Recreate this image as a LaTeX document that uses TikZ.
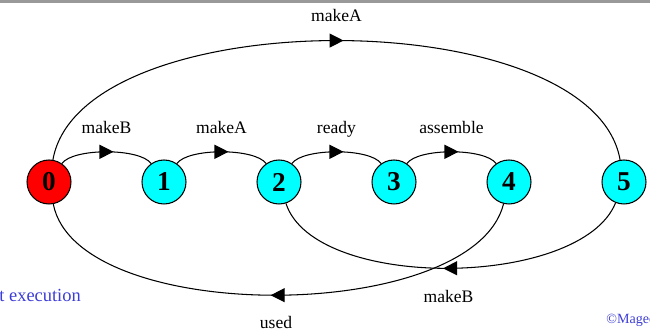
\documentclass[tikz,border=0pt]{standalone}
\usepackage{fontspec}
\setmainfont{Liberation Serif}
\usetikzlibrary{arrows.meta, decorations.markings}

\definecolor{statered}{RGB}{255,0,0}
\definecolor{statecyan}{RGB}{0,255,255}
\definecolor{noteblue}{RGB}{60,60,215}
\definecolor{bargray}{RGB}{153,153,153}

\begin{document}
\begin{tikzpicture}[x=0.02cm, y=0.02cm,
  state/.style={circle, draw, line width=0.6pt, minimum size=0.88cm, inner sep=0pt,
    fill=statecyan, font=\fontsize{15.5}{15}\selectfont\bfseries},
  trans/.style={line width=0.6pt, postaction={decorate},
    decoration={markings, mark=at position 0.5 with
      {\arrow[xshift=4pt]{Triangle[length=8pt,width=8pt]}}}},
  lbl/.style={font=\fontsize{10}{12}\selectfont, inner sep=0pt,
    text height=7pt, text depth=2pt}]
% Fix the page size
\useasboundingbox (0,0) rectangle (650,330);
% Grey rule along the top edge
\fill [bargray] (0,327) rectangle (650,330);
% The states
\node [state, fill=statered] (s0) at (49,148) {0};
\node [state] (s1) at (164,148) {1};
\node [state] (s2) at (279,148) {2};
\node [state] (s3) at (394,148) {3};
\node [state] (s4) at (509,148) {4};
\node [state] (s5) at (624,148) {5};
% Short arcs between neighbours
\draw [trans] (s0) to [out=55, in=125, looseness=0.55] node [lbl, above=8pt] {makeB} (s1);
\draw [trans] (s1) to [out=55, in=125, looseness=0.55] node [lbl, above=8pt] {makeA} (s2);
\draw [trans] (s2) to [out=55, in=125, looseness=0.55] node [lbl, above=8pt] {ready} (s3);
\draw [trans] (s3) to [out=55, in=125, looseness=0.55] node [lbl, above=8pt] {assemble} (s4);
% Long arc over the top
\draw [trans] (s0) to [out=80, in=100, looseness=0.73] node [lbl, above=8.5pt] {makeA} (s5);
% Arcs back underneath
\draw [trans] (s5) to [out=-112, in=-72, looseness=0.72] node [lbl, below=12pt] {makeB} (s2);
\draw [trans] (s4) to [out=-104, in=-79, looseness=0.71] node [lbl, below=11.5pt] {used} (s0);
% Notes in the corners
\node [anchor=west, inner sep=0pt, text=noteblue, font=\fontsize{10.5}{12}\selectfont] (note) at (-1,35) {t execution};
\node [anchor=west, inner sep=0pt, text=noteblue, font=\fontsize{8}{9}\selectfont] (copy) at (606,10) {©Magee};
\end{tikzpicture}
\end{document}
